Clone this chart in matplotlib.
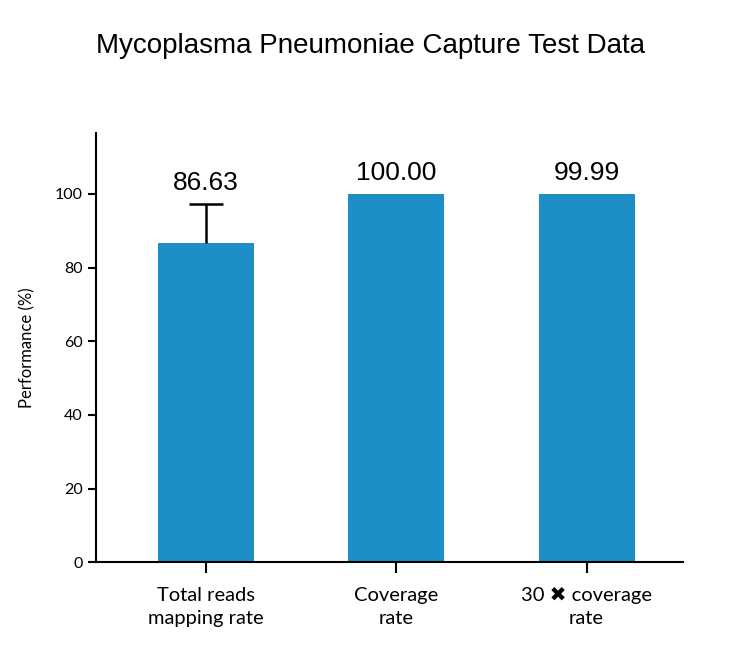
import matplotlib.pyplot as plt
import numpy as np

categories = ["Total reads\nmapping rate", "Coverage\nrate", "30 \u2716 coverage\nrate"]
values = [86.63, 100.00, 99.99]
upper_err = [10.7, 0, 0]
value_labels = ["86.63", "100.00", "99.99"]

fig = plt.figure(figsize=(7.42, 6.56), dpi=100)
ax = fig.add_axes([0.129, 0.143, 0.791, 0.654])

x = np.arange(len(categories))
ax.bar(x, values, width=0.505, color="#1e8fc6", zorder=2)
# upper-only error bar with a single cap
top = values[0] + upper_err[0]
ax.vlines(x[0], values[0], top, color="black", linewidth=1.8, zorder=3)
ax.hlines(top, x[0] - 0.09, x[0] + 0.09, color="black", linewidth=1.8, zorder=3)

label_y = [top + 2.5, values[1] + 2.5, values[2] + 2.5]
for xi, yi, lab in zip(x, label_y, value_labels):
    ax.text(xi, yi, lab, ha="center", va="bottom", fontsize=19,
            family="Liberation Sans")

ax.set_xlim(-0.58, 2.505)
ax.set_ylim(0, 116.5)
ax.set_yticks([0, 20, 40, 60, 80, 100])
ax.set_xticks(x)
ax.set_xticklabels(categories, fontsize=14.5, family=["Lato", "DejaVu Sans"], linespacing=1.45)
ax.tick_params(axis="y", labelsize=11.5, width=1.5, length=6)
ax.tick_params(axis="x", width=1.5, length=8, pad=10)
for lab in ax.get_yticklabels():
    lab.set_family("Lato")
ax.set_ylabel("Performance (%)", fontsize=12, family="Lato", labelpad=14)
for side in ("top", "right"):
    ax.spines[side].set_visible(False)
for side in ("left", "bottom"):
    ax.spines[side].set_linewidth(1.5)

fig.text(0.5, 0.93, "Mycoplasma Pneumoniae Capture Test Data", ha="center",
         va="center", fontsize=20, family="Liberation Sans")

fig.savefig("out.png", dpi=100)
